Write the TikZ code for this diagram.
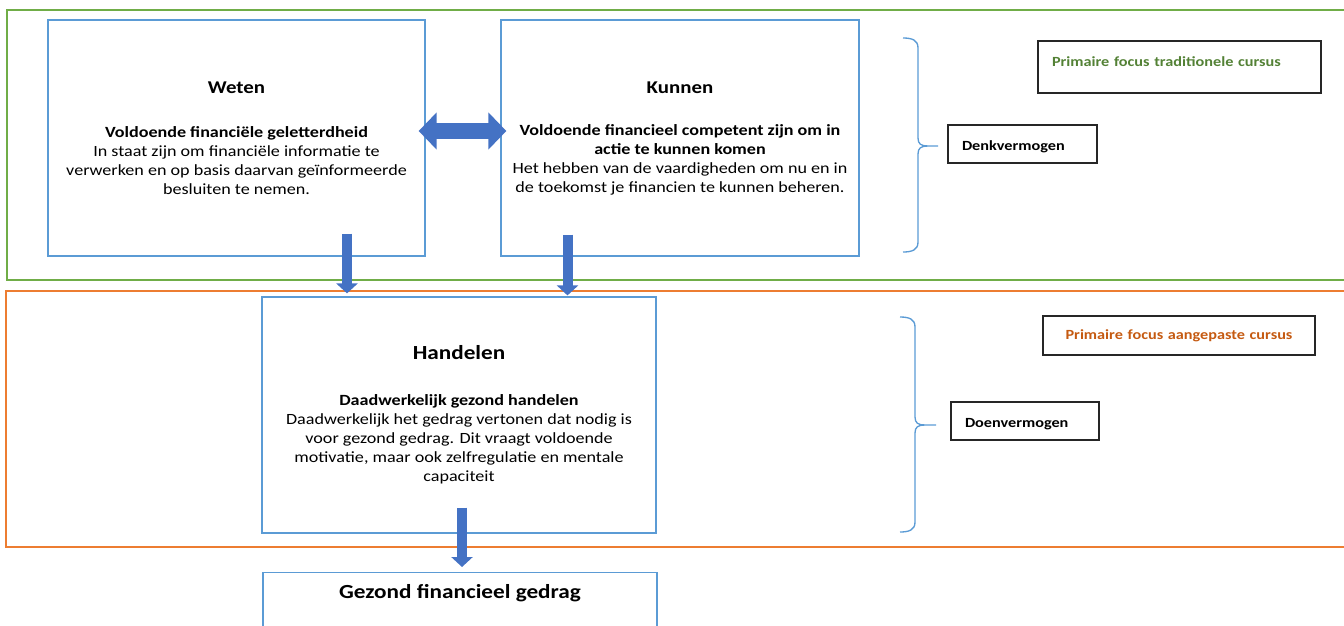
\documentclass[tikz,border=0pt]{standalone}
\usepackage{fontspec}
\setmainfont{Carlito}[FakeStretch=1.16]
\usetikzlibrary{arrows.meta,calc}
\definecolor{boxblue}{HTML}{5B9BD5}
\definecolor{arrowblue}{HTML}{4472C4}
\definecolor{framegreen}{HTML}{70AD47}
\definecolor{frameorange}{HTML}{ED7D31}
\definecolor{textgreen}{HTML}{538135}
\definecolor{textorange}{HTML}{C55A11}
\newcommand{\headfont}{\bfseries\fontsize{13.5}{16}\selectfont}
\newcommand{\bigheadfont}{\bfseries\fontsize{15}{18}\selectfont}
\begin{document}
\begin{tikzpicture}[x=0.75pt,y=-0.75pt,
  level/.style={draw=boxblue, line width=0.9pt, align=center, inner sep=0pt, minimum height=177pt, font=\fontsize{11.7}{14.25}\selectfont},
  tag/.style={draw=black!85, line width=1pt, inner xsep=10.5pt, inner ysep=0pt, font=\bfseries\fontsize{10.5}{12}\selectfont},
  downarrow/.style={arrowblue, line width=7.5pt, -{Triangle[length=7.5pt,width=15.75pt]}},
  bothway/.style={arrowblue, line width=12pt, {Triangle[length=13.5pt,width=27pt]}-{Triangle[length=13.5pt,width=27pt]}},
  brace/.style={boxblue, line width=1pt}]
\useasboundingbox (0,0) rectangle (1344,625);
\clip (0,0) rectangle (1344,625);

% the two zones
\draw[framegreen, line width=1pt] (7,10) rectangle (1370,280);
\draw[frameorange, line width=1pt] (6,291) rectangle (1370,547);

\node[level, minimum width=282.75pt] (w) at (236.5,138) {{\headfont Weten}\\[18.75pt]
  \textbf{Voldoende financiële geletterdheid}\\
  In staat zijn om financiële informatie te\\
  verwerken en op basis daarvan geïnformeerde\\
  besluiten te nemen.};
\node[level, minimum width=268.5pt] (k) at (680,138) {{\headfont Kunnen}\\[17.25pt]
  \textbf{Voldoende financieel competent zijn om in}\\
  \textbf{actie te kunnen komen}\\
  Het hebben van de vaardigheden om nu en in\\
  de toekomst je financien te kunnen beheren.};
\node[level, minimum width=295.5pt] (h) at (459,415) {{\bigheadfont Handelen}\\[20.25pt]
  \textbf{Daadwerkelijk gezond handelen}\\
  Daadwerkelijk het gedrag vertonen dat nodig is\\
  voor gezond gedrag. Dit vraagt voldoende\\
  motivatie, maar ook zelfregulatie en mentale\\
  capaciteit};
\node[level, minimum width=295.5pt, minimum height=0pt, anchor=north, text height=19.5pt, text depth=60pt, font=\bigheadfont] (g) at (460,572) {Gezond financieel gedrag};

\draw[bothway] ($(w.east)+(-7,-7)$) -- ($(k.west)+(6,-7)$);
\draw[downarrow] ($(w.south)+(110.5,-23)$) -- ($(h.north)+(-112,-3)$);
\draw[downarrow] ($(k.south)+(-112.5,-22)$) -- ($(h.north)+(108.5,-1)$);
\draw[downarrow] ($(h.south)+(3,-26)$) -- ($(g.north)+(2,-5)$);

% braces
\draw[brace] (903,38) .. controls (912,38) and (918,40) .. (918,48) -- (918,138)
  .. controls (918,144) and (921,146) .. (928,146) -- (938,146)
  (928,146) .. controls (921,146) and (918,148) .. (918,154) -- (918,242)
  .. controls (918,250) and (912,252) .. (903,252);
\draw[brace] (900,317) .. controls (909,317) and (915,319) .. (915,327) -- (915,417)
  .. controls (915,423) and (918,425) .. (925,425) -- (936,425)
  (925,425) .. controls (918,425) and (915,427) .. (915,433) -- (915,522)
  .. controls (915,530) and (909,532) .. (900,532);

\node[tag, text width=90.75pt, minimum height=28.5pt, text height=12pt] (dk) at (1022.5,144) {Denkvermogen};
\node[tag, text width=191.25pt, minimum height=39pt, text depth=8pt, text=textgreen] (pt) at (1179.5,67) {Primaire focus traditionele cursus};
\node[tag, text width=90pt, minimum height=28.5pt, text height=12pt] (dn) at (1025,421) {Doenvermogen};
\node[tag, text width=183pt, minimum height=29.25pt, align=center, text=textorange] (pa) at (1179,335.5) {Primaire focus aangepaste cursus};
\end{tikzpicture}
\end{document}
